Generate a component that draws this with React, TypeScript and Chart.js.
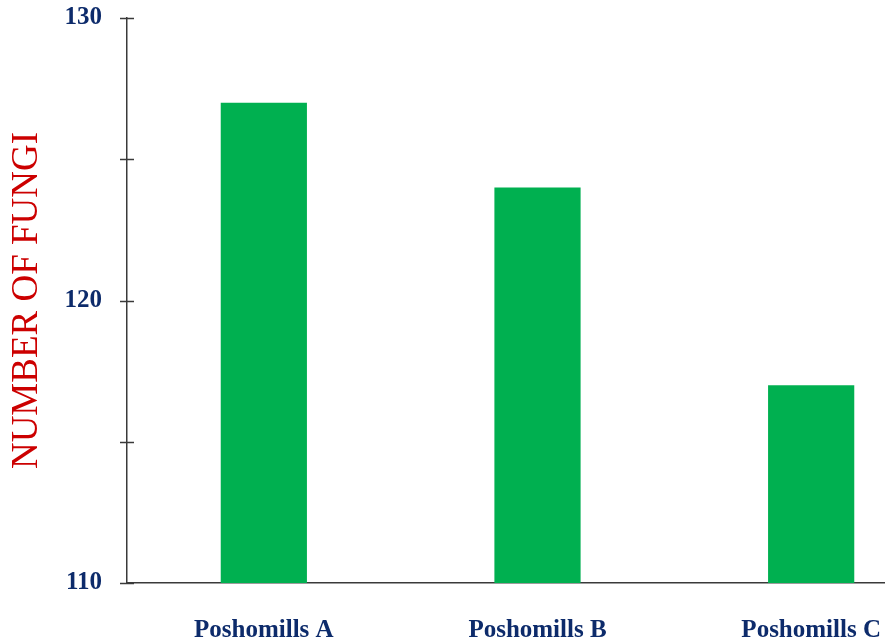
import React, { useEffect, useRef } from "react";
import { Chart, registerables } from "chart.js";

Chart.register(...registerables);

const categories = ["Poshomills A", "Poshomills B", "Poshomills C"];
const fungiCounts = [127, 124, 117];
const yMin = 110;
const yMax = 130;
const yStep = 5;
const yLabelStep = 10;
const yTitle = "NUMBER OF FUNGI";

const crossTicks = {
  id: "crossTicks",
  afterDraw(chart: any) {
    const y = chart.scales.y;
    const ctx = chart.ctx;
    const x0 = chart.chartArea.left;
    ctx.save();
    ctx.strokeStyle = "#3a3a3a";
    ctx.lineWidth = 1.5;
    for (let v = yMin; v <= yMax; v += yStep) {
      const py = Math.round(y.getPixelForValue(v)) + 0.5;
      ctx.beginPath();
      ctx.moveTo(x0 - 7, py);
      ctx.lineTo(x0 + 7, py);
      ctx.stroke();
    }
    ctx.restore();
  },
};

export default function App() {
  const ref = useRef<HTMLCanvasElement>(null);
  useEffect(() => {
    if (!ref.current) return;
    const chart = new Chart(ref.current, {
      type: "bar",
      data: {
        labels: categories,
        datasets: [
          {
            data: fungiCounts,
            backgroundColor: "#00B050",
            borderWidth: 0,
            barPercentage: 1,
            categoryPercentage: 0.315,
          },
        ],
      },
      options: {
        animation: false,
        responsive: false,
        layout: { padding: { top: 18, right: 2, left: 0, bottom: 0 } },
        plugins: { legend: { display: false }, tooltip: { enabled: false } },
        scales: {
          x: {
            grid: { display: false, drawTicks: false },
            border: { display: true, color: "#3a3a3a", width: 1.5 },
            ticks: {
              color: "#0D2B6B",
              padding: 33,
              maxRotation: 0,
              font: { family: "Liberation Serif", size: 25, weight: "bold" },
            },
            afterFit(scale: any) {
              scale.height = 59;
            },
          },
          y: {
            min: yMin,
            max: yMax,
            grid: { display: false, drawTicks: false },
            border: { display: true, color: "#3a3a3a", width: 1.5 },
            ticks: {
              stepSize: yStep,
              color: "#0D2B6B",
              padding: 25,
              font: { family: "Liberation Serif", size: 25, weight: "bold" },
              callback: (v: any) => (Number(v) % yLabelStep === 0 ? String(v) : ""),
            },
            title: {
              display: true,
              text: yTitle,
              color: "#CC0000",
              padding: { top: 5, bottom: 0 },
              font: { family: "Liberation Serif", size: 37, weight: "normal" },
            },
            afterFit(scale: any) {
              scale.width = 127;
            },
          },
        },
      },
      plugins: [crossTicks],
    });
    return () => chart.destroy();
  }, []);
  return (
    <div
      style={{
        position: "fixed",
        left: 0,
        top: 0,
        width: 885,
        height: 642,
        overflow: "hidden",
        background: "#fff",
      }}
    >
      <canvas
        ref={ref}
        width={950}
        height={664}
        style={{ display: "block", position: "absolute", left: 0, top: -22 }}
      />
    </div>
  );
}
